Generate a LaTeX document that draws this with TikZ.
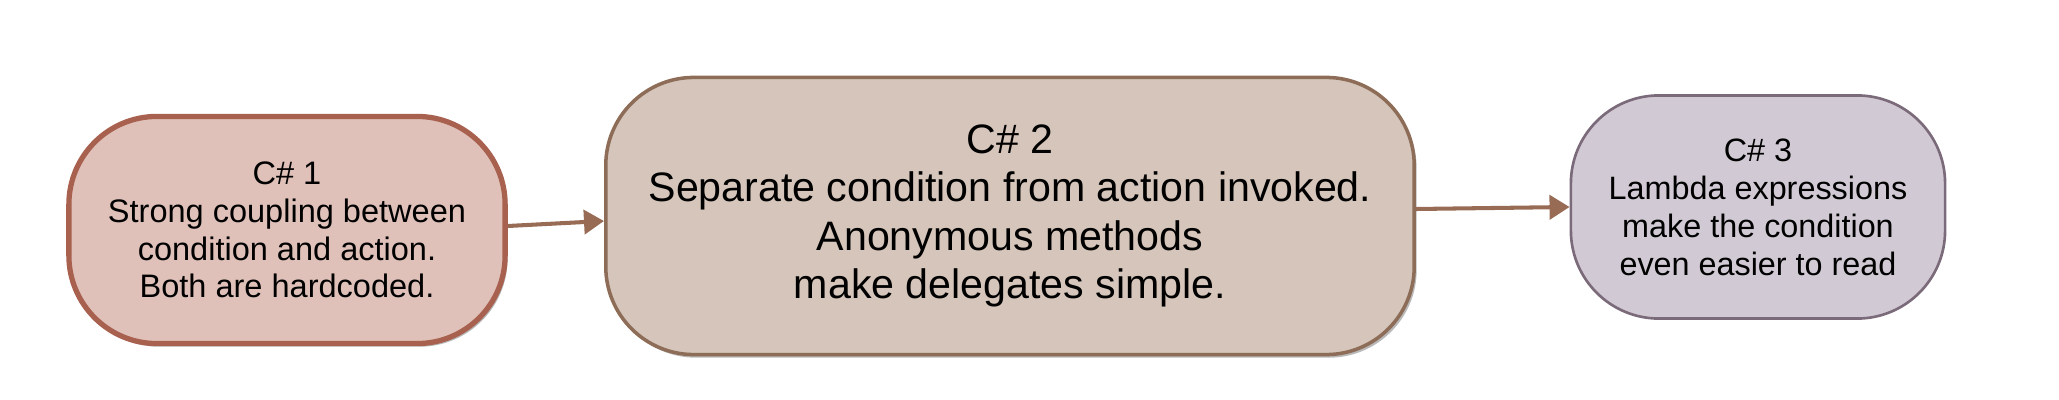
\documentclass[tikz,border=0pt]{standalone}
\usepackage{fontspec}
\setmainfont{Liberation Sans}
\usetikzlibrary{arrows.meta,calc,shadows}
\definecolor{fillA}{HTML}{DFC1B9}
\definecolor{drawA}{HTML}{A9614F}
\definecolor{fillB}{HTML}{D5C5BA}
\definecolor{drawB}{HTML}{8E6D58}
\definecolor{fillC}{HTML}{D1C9D3}
\definecolor{drawC}{HTML}{7B6B7A}
\definecolor{arrowcol}{HTML}{976B54}
\tikzset{
  box/.style={rectangle, rounded corners=0.88cm, align=center, inner sep=0pt, text=black},
  shad/.style={drop shadow={shadow xshift=0.7pt, shadow yshift=-0.9pt, opacity=0.55}},
  conn/.style={draw=arrowcol, line width=1.15pt, -{Triangle[length=0.2cm,width=0.24cm]}}
}
\begin{document}
\begin{tikzpicture}[x=0.01cm,y=-0.01cm]
\useasboundingbox (0,0) rectangle (2059,400);
\node[box, shad, fill=fillA, draw=drawA, line width=1.5pt,
      minimum width=4.36cm, minimum height=2.27cm,
      font=\fontsize{9.25pt}{10.7pt}\selectfont] (n1) at (287,230)
  {C\# 1\\Strong coupling between\\condition and action.\\Both are hardcoded.};
\node[box, shad, fill=fillB, draw=drawB, line width=1.0pt,
      minimum width=8.08cm, minimum height=2.77cm,
      font=\fontsize{11.7pt}{13.8pt}\selectfont] (n2) at (1010,216)
  {C\# 2\\Separate condition from action invoked.\\Anonymous methods\\make delegates simple.};
\node[box, fill=fillC, draw=drawC, line width=0.75pt,
      minimum width=3.74cm, minimum height=2.23cm,
      font=\fontsize{9.2pt}{10.8pt}\selectfont] (n3) at (1758,207)
  {C\# 3\\Lambda expressions\\make the condition\\even easier to read};
\draw[conn] ($(n1.east)+(0,-4)$) -- ($(n2.west)+(0,5)$);
\draw[conn] ($(n2.east)+(0,-7)$) -- ($(n3.west)+(0,0)$);
\end{tikzpicture}
\end{document}
